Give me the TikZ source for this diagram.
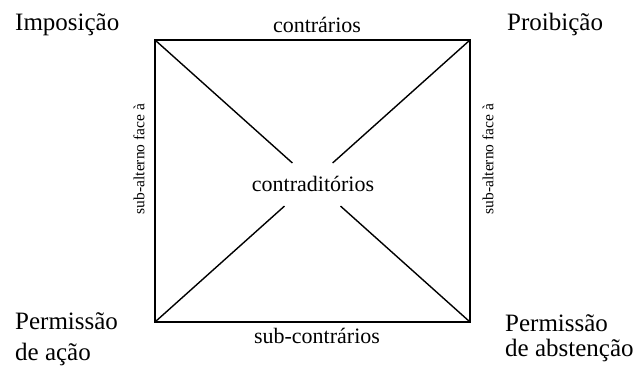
\documentclass[tikz,border=0pt]{standalone}
\usepackage{fontspec}
\setmainfont{Liberation Serif}
\usetikzlibrary{calc}
\tikzset{
  big/.style={font=\fontsize{25}{30}\selectfont, inner sep=0pt},
  mid/.style={font=\fontsize{22}{26}\selectfont, inner sep=0pt},
  small/.style={font=\fontsize{15.5}{18}\selectfont, inner sep=0pt},
  frame/.style={line width=2.2pt},
  diag/.style={line width=1.4pt},
}
\begin{document}
\begin{tikzpicture}[x=1pt,y=-1pt]
\useasboundingbox (0,0) rectangle (637,366);
\coordinate (tl) at (155,40);
\coordinate (tr) at (470,40);
\coordinate (bl) at (155,322);
\coordinate (br) at (470,322);
\draw[frame] (tl) rectangle (br);
\coordinate (g1) at ($(tl)!0.436!(br)$);
\coordinate (g2) at ($(tr)!0.436!(bl)$);
\coordinate (g3) at ($(bl)!0.411!(tr)$);
\coordinate (g4) at ($(br)!0.411!(tl)$);
\draw[diag] (tl) -- (g1);
\draw[diag] (tr) -- (g2);
\draw[diag] (bl) -- (g3);
\draw[diag] (br) -- (g4);
\node[big, anchor=base west] (imp) at (15,31) {Imposição};
\node[big, anchor=base west] (proi) at (507,31) {Proibição};
\node[big, anchor=base west] (pa1) at (15,329) {Permissão};
\node[big, anchor=base west] (pa2) at (15,360) {de ação};
\node[big, anchor=base west] (pb1) at (505,331) {Permissão};
\node[big, anchor=base west] (pb2) at (505,356) {de abstenção};
\node[mid, anchor=base] (contr) at (317,33) {contrários};
\node[mid, anchor=base] (sub) at (317,343) {sub-contrários};
\node[mid, anchor=base] (cd) at (313,192) {contraditórios};
\node[small, rotate=90] (sl) at (139,159) {sub-alterno face à};
\node[small, rotate=90] (sr) at (488,159) {sub-alterno face à};
\end{tikzpicture}
\end{document}
